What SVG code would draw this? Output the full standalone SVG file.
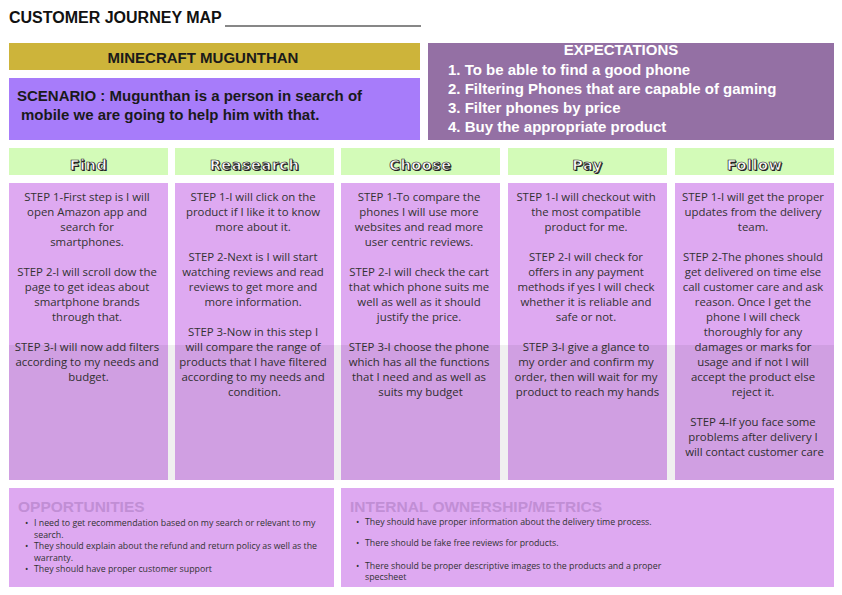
<svg xmlns="http://www.w3.org/2000/svg" width="842" height="595" viewBox="0 0 842 595">
<style>
.title{font-family:"Liberation Sans",Arial,sans-serif;font-weight:bold;font-size:16px;fill:#111}
.hb{font-family:"Liberation Sans",Arial,sans-serif;font-weight:bold;font-size:15px;fill:#1a1a1a}
.exp{font-family:"Liberation Sans",Arial,sans-serif;font-weight:bold;font-size:15px;fill:#ffffff}
.col{fill:#DEA9F1}
.hdr{fill:#D3FBB8}
.ht{font-family:"DejaVu Sans",sans-serif;font-weight:bold;font-size:14.5px;text-anchor:middle;letter-spacing:0.5px}
.hs{fill:#222}
.hf{fill:#ffffff;stroke:#222;stroke-width:0.7px}
.st{font-family:"Open Sans","Noto Sans",sans-serif;font-size:11.4px;fill:#333;text-anchor:middle}
.bh{font-family:"Liberation Sans",Arial,sans-serif;font-weight:bold;font-size:15.5px;fill:#C18ED5}
.bt{font-family:"Open Sans","Noto Sans",sans-serif;font-size:8.8px;fill:#333}
</style>
<rect width="842" height="595" fill="#ffffff"/>

<g id="title">
<text class="title" x="9" y="23">CUSTOMER JOURNEY MAP</text>
<line x1="225" y1="26" x2="421" y2="26" stroke="#111" stroke-width="1.2"/>
</g>

<g id="persona">
<rect x="9" y="43" width="411" height="27" fill="#CDB43A"/>
<text class="hb" x="203" y="63" text-anchor="middle" font-size="14.5">MINECRAFT MUGUNTHAN</text>
</g>

<g id="scenario">
<rect x="9" y="78" width="411" height="62" fill="#A77CFA"/>
<text class="hb" x="17" y="101">SCENARIO : Mugunthan is a person in search of</text>
<text class="hb" x="21" y="120">mobile we are going to help him with that.</text>
</g>

<g id="expectations">
<rect x="428" y="43" width="406" height="97" fill="#9470A4"/>
<text class="exp" x="621" y="55" text-anchor="middle" font-size="14.5">EXPECTATIONS</text>
<text class="exp" x="448" y="75">1. To be able to find a good phone</text>
<text class="exp" x="448" y="94">2. Filtering Phones that are capable of gaming</text>
<text class="exp" x="448" y="113">3. Filter phones by price</text>
<text class="exp" x="448" y="132">4. Buy the appropriate product</text>
</g>

<g id="stage-find">
<rect class="hdr" x="9" y="148" width="159" height="27"/>
<text class="ht hs" x="89.5" y="170.5">Find</text>
<text class="ht hf" x="88.5" y="169.5">Find</text>
<rect class="col" x="9" y="183" width="159" height="297"/>
<text class="st">
<tspan x="88.5" y="201">STEP 1-First step is I will</tspan>
<tspan x="88.5" y="216">open Amazon app and</tspan>
<tspan x="88.5" y="231">search for</tspan>
<tspan x="88.5" y="246">smartphones.</tspan>
<tspan x="88.5" y="276">STEP 2-I will scroll dow the</tspan>
<tspan x="88.5" y="291">page to get ideas about</tspan>
<tspan x="88.5" y="306">smartphone brands</tspan>
<tspan x="88.5" y="321">through that.</tspan>
<tspan x="88.5" y="351">STEP 3-I will now add filters</tspan>
<tspan x="88.5" y="366">according to my needs and</tspan>
<tspan x="88.5" y="381">budget.</tspan>
</text>
</g>

<g id="stage-research">
<rect class="hdr" x="175" y="148" width="159" height="27"/>
<text class="ht hs" x="255.5" y="170.5">Reasearch</text>
<text class="ht hf" x="254.5" y="169.5">Reasearch</text>
<rect class="col" x="175" y="183" width="159" height="297"/>
<text class="st">
<tspan x="254.5" y="201">STEP 1-I will click on the</tspan>
<tspan x="254.5" y="216">product if I like it to know</tspan>
<tspan x="254.5" y="231">more about it.</tspan>
<tspan x="254.5" y="261">STEP 2-Next is I will start</tspan>
<tspan x="254.5" y="276">watching reviews and read</tspan>
<tspan x="254.5" y="291">reviews to get more and</tspan>
<tspan x="254.5" y="306">more information.</tspan>
<tspan x="254.5" y="336">STEP 3-Now in this step I</tspan>
<tspan x="254.5" y="351">will compare the range of</tspan>
<tspan x="254.5" y="366">products that I have filtered</tspan>
<tspan x="254.5" y="381">according to my needs and</tspan>
<tspan x="254.5" y="396">condition.</tspan>
</text>
</g>

<g id="stage-choose">
<rect class="hdr" x="341" y="148" width="159" height="27"/>
<text class="ht hs" x="421.5" y="170.5">Choose</text>
<text class="ht hf" x="420.5" y="169.5">Choose</text>
<rect class="col" x="341" y="183" width="159" height="297"/>
<text class="st">
<tspan x="420.5" y="201">STEP 1-To compare the</tspan>
<tspan x="420.5" y="216">phones I will use more</tspan>
<tspan x="420.5" y="231">websites and read more</tspan>
<tspan x="420.5" y="246">user centric reviews.</tspan>
<tspan x="420.5" y="276">STEP 2-I will check the cart</tspan>
<tspan x="420.5" y="291">that which phone suits me</tspan>
<tspan x="420.5" y="306">well as well as it should</tspan>
<tspan x="420.5" y="321">justify the price.</tspan>
<tspan x="420.5" y="351">STEP 3-I choose the phone</tspan>
<tspan x="420.5" y="366">which has all the functions</tspan>
<tspan x="420.5" y="381">that I need and as well as</tspan>
<tspan x="420.5" y="396">suits my budget</tspan>
</text>
</g>

<g id="stage-pay">
<rect class="hdr" x="508" y="148" width="159" height="27"/>
<text class="ht hs" x="588.5" y="170.5">Pay</text>
<text class="ht hf" x="587.5" y="169.5">Pay</text>
<rect class="col" x="508" y="183" width="159" height="297"/>
<text class="st">
<tspan x="587.5" y="201">STEP 1-I will checkout with</tspan>
<tspan x="587.5" y="216">the most compatible</tspan>
<tspan x="587.5" y="231">product for me.</tspan>
<tspan x="587.5" y="261">STEP 2-I will check for</tspan>
<tspan x="587.5" y="276">offers in any payment</tspan>
<tspan x="587.5" y="291">methods if yes I will check</tspan>
<tspan x="587.5" y="306">whether it is reliable and</tspan>
<tspan x="587.5" y="321">safe or not.</tspan>
<tspan x="587.5" y="351">STEP 3-I give a glance to</tspan>
<tspan x="587.5" y="366">my order and confirm my</tspan>
<tspan x="587.5" y="381">order, then will wait for my</tspan>
<tspan x="587.5" y="396">product to reach my hands</tspan>
</text>
</g>

<g id="stage-follow">
<rect class="hdr" x="675" y="148" width="159" height="27"/>
<text class="ht hs" x="755.5" y="170.5">Follow</text>
<text class="ht hf" x="754.5" y="169.5">Follow</text>
<rect class="col" x="675" y="183" width="159" height="297"/>
<text class="st">
<tspan x="754.5" y="201">STEP 1-I will get the proper</tspan>
<tspan x="754.5" y="216">updates from the delivery</tspan>
<tspan x="754.5" y="231">team.</tspan>
<tspan x="754.5" y="261">STEP 2-The phones should</tspan>
<tspan x="754.5" y="276">get delivered on time else</tspan>
<tspan x="754.5" y="291">call customer care and ask</tspan>
<tspan x="754.5" y="306">reason. Once I get the</tspan>
<tspan x="754.5" y="321">phone I will check</tspan>
<tspan x="754.5" y="336">thoroughly for any</tspan>
<tspan x="754.5" y="351">damages or marks for</tspan>
<tspan x="754.5" y="366">usage and if not I will</tspan>
<tspan x="754.5" y="381">accept the product else</tspan>
<tspan x="754.5" y="396">reject it.</tspan>
<tspan x="754.5" y="426">STEP 4-If you face some</tspan>
<tspan x="754.5" y="441">problems after delivery I</tspan>
<tspan x="754.5" y="456">will contact customer care</tspan>
</text>
</g>

<rect id="shade" x="9" y="345" width="825" height="135" fill="#000000" fill-opacity="0.06"/>

<g id="opportunities">
<rect class="col" x="9" y="488" width="325" height="99"/>
<text class="bh" x="18" y="512">OPPORTUNITIES</text>
<text class="bt">
<tspan x="25" y="526">•</tspan><tspan x="34" y="526">I need to get recommendation based on my search or relevant to my</tspan>
<tspan x="34" y="537.5">search.</tspan>
<tspan x="25" y="549">•</tspan><tspan x="34" y="549">They should explain about the refund and return policy as well as the</tspan>
<tspan x="34" y="560.5">warranty.</tspan>
<tspan x="25" y="572">•</tspan><tspan x="34" y="572">They should have proper customer support</tspan>
</text>
</g>

<g id="internal">
<rect class="col" x="341" y="488" width="493" height="99"/>
<text class="bh" x="350" y="512">INTERNAL OWNERSHIP/METRICS</text>
<text class="bt">
<tspan x="356" y="525">•</tspan><tspan x="365" y="525">They should have proper information about the delivery time process.</tspan>
<tspan x="356" y="546">•</tspan><tspan x="365" y="546">There should be fake free reviews for products.</tspan>
<tspan x="356" y="569">•</tspan><tspan x="365" y="569">There should be proper descriptive images to the products and a proper</tspan>
<tspan x="365" y="580">specsheet</tspan>
</text>
</g>

<g id="connectors"></g>
</svg>
